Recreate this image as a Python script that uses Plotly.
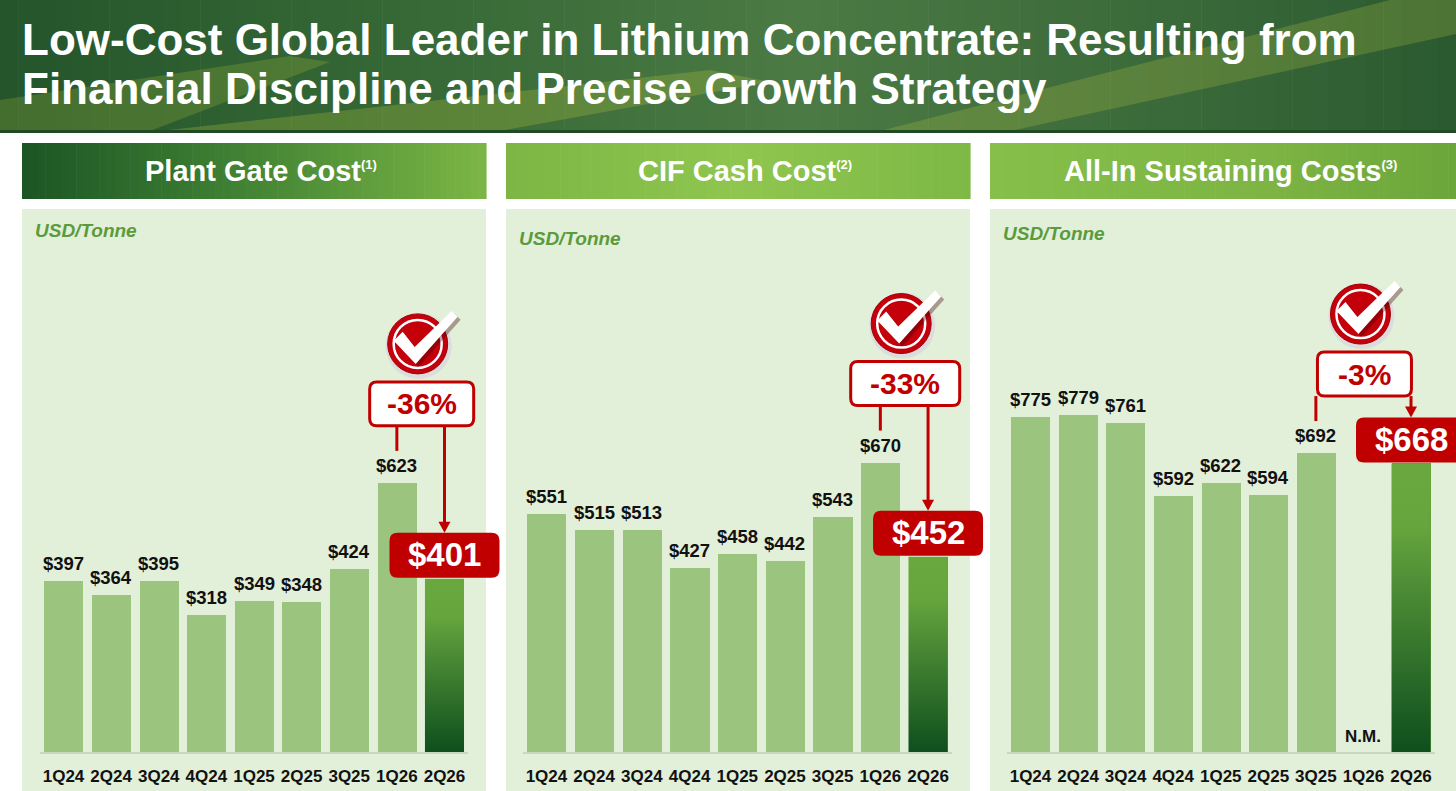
import plotly.graph_objects as go

# ---- chart data ----
quarters = ["1Q24", "2Q24", "3Q24", "4Q24", "1Q25", "2Q25", "3Q25", "1Q26", "2Q26"]
plant_gate = [397, 364, 395, 318, 349, 348, 424, 623, 401]
cif_cash = [551, 515, 513, 427, 458, 442, 543, 670, 452]
aisc = [775, 779, 761, 592, 622, 594, 692, None, 668]
panel_titles = ["Plant Gate Cost", "CIF Cash Cost", "All-In Sustaining Costs"]
footnotes = ["(1)", "(2)", "(3)"]
changes = ["-36%", "-33%", "-3%"]
compare_from = [7, 7, 6]  # bar the latest quarter is compared against
unit_label = "USD/Tonne"
title_lines = ["Low-Cost Global Leader in Lithium Concentrate: Resulting from",
               "Financial Discipline and Precise Growth Strategy"]
series = [plant_gate, cif_cash, aisc]

# ---- layout constants (pixels) ----
W, H = 1456, 791
BASE_PX, TOP_PX = 752, 209
Y_MAX = 1257
PPU = (BASE_PX - TOP_PX) / Y_MAX
BAR_W = 0.82
FONT = "Liberation Sans, Arial, sans-serif"
RED = "#c00000"

panel_px = [(22, 486), (506, 970), (990, 1456)]
axis_px = [(39.7, 468.3), (522.6, 951.9), (1006.7, 1434.8)]
unit_y = [230, 238, 233]
pct_w = [104, 109, 94]
header_stops = [
    [(0, "#1b5525"), (0.45, "#3f8033"), (1, "#7cb645")],
    [(0, "#7db644"), (0.5, "#8ec64f"), (1, "#7eb845")],
    [(0, "#86bf4a"), (0.6, "#7db443"), (1, "#6ba63b")],
]


def fx(x):
    return x / W


def fy(y):
    return 1 - y / H


def bar_cx(k, i):
    a, b = axis_px[k]
    return a + (i + 0.5) * (b - a) / len(quarters)


def bar_top(v):
    return BASE_PX - v * PPU


def hex2rgb(h):
    h = h.lstrip("#")
    return tuple(int(h[i:i + 2], 16) for i in (0, 2, 4))


def interp(stops, t):
    for (t0, c0), (t1, c1) in zip(stops[:-1], stops[1:]):
        if t0 <= t <= t1:
            f = (t - t0) / (t1 - t0)
            a, b = hex2rgb(c0), hex2rgb(c1)
            return "rgb(%d,%d,%d)" % tuple(round(a[j] + (b[j] - a[j]) * f) for j in range(3))
    return stops[-1][1]


shapes = []


def rect(x0, y0, x1, y1, color, layer="below"):
    shapes.append(dict(type="rect", xref="paper", yref="paper", x0=fx(x0), x1=fx(x1),
                       y0=fy(y1), y1=fy(y0), fillcolor=color, line_width=0, layer=layer))


def hgrad(x0, x1, y0, y1, stops, n=60):
    step = (x1 - x0) / n
    for j in range(n):
        rect(x0 + j * step, y0, x0 + (j + 1) * step + 0.6, y1, interp(stops, (j + 0.5) / n))


def poly(pts, color, line=None, lw=0, layer="above"):
    d = "M " + " L ".join("%.5f,%.5f" % (fx(x), fy(y)) for x, y in pts) + " Z"
    shapes.append(dict(type="path", xref="paper", yref="paper", path=d, fillcolor=color,
                       line=dict(color=line or "rgba(0,0,0,0)", width=lw), layer=layer))


def rrect(x0, y0, x1, y1, r, fill, line=None, lw=0):
    P = lambda x, y: "%.5f,%.5f" % (fx(x), fy(y))
    d = ("M %s L %s Q %s %s L %s Q %s %s L %s Q %s %s L %s Q %s %s Z" % (
        P(x0 + r, y0), P(x1 - r, y0), P(x1, y0), P(x1, y0 + r), P(x1, y1 - r),
        P(x1, y1), P(x1 - r, y1), P(x0 + r, y1), P(x0, y1), P(x0, y1 - r),
        P(x0, y0 + r), P(x0, y0), P(x0 + r, y0)))
    shapes.append(dict(type="path", xref="paper", yref="paper", path=d, fillcolor=fill,
                       line=dict(color=line or fill, width=lw), layer="above"))


def circle(cx, cy, r, fill, line=None, lw=0):
    shapes.append(dict(type="circle", xref="paper", yref="paper", x0=fx(cx - r), x1=fx(cx + r),
                       y0=fy(cy + r), y1=fy(cy - r), fillcolor=fill,
                       line=dict(color=line or "rgba(0,0,0,0)", width=lw), layer="above"))


def seg(x0, y0, x1, y1, color, w):
    shapes.append(dict(type="line", xref="paper", yref="paper", x0=fx(x0), y0=fy(y0),
                       x1=fx(x1), y1=fy(y1), line=dict(color=color, width=w), layer="above"))


def label(x, y, text, size, color, xanchor="center", **kw):
    annotations.append(dict(xref="paper", yref="paper", x=fx(x), y=fy(y), xanchor=xanchor,
                            yanchor="middle", text=text, showarrow=False,
                            font=dict(family=FONT, size=size, color=color, weight="bold"), **kw))


# ---- banner ----
hgrad(0, W, 0, 131, [(0, "#24552b"), (0.3, "#386a37"), (0.55, "#4b7a44"),
                     (0.8, "#3b6a3a"), (1, "#2a5a30")], n=80)
poly([(0, 100), (0, 131), (150, 131), (330, 62), (290, 56)], "rgba(180,200,60,0.22)", layer="below")
poly([(160, 131), (500, 131), (770, 82), (710, 70)], "rgba(190,205,60,0.26)", layer="below")
poly([(880, 131), (1010, 131), (1456, 34), (1456, 0), (1390, 0)], "rgba(200,210,70,0.22)", layer="below")
rect(0, 130, W, 133, "#1f4a24")

# ---- panel headers and backgrounds ----
for k, (a, b) in enumerate(panel_px):
    hgrad(a, b, 143, 199, header_stops[k])
    rect(a, 209, b, H, "#e2efd9")

fig = go.Figure()
annotations = []

for k, vals in enumerate(series):
    xa, ya = "x%d" % (k + 1), "y%d" % (k + 1)
    idx = list(range(len(quarters)))
    colors = ["#9bc57f"] * (len(quarters) - 1) + ["#5f9c3a"]
    fig.add_trace(go.Bar(x=idx, y=vals, width=BAR_W, marker_color=colors,
                         marker_line_width=0, xaxis=xa, yaxis=ya, hoverinfo="skip"))
    last = len(quarters) - 1
    v_last = vals[last]
    fig.add_trace(go.Scatter(
        x=[last - BAR_W / 2, last + BAR_W / 2, last + BAR_W / 2, last - BAR_W / 2, last - BAR_W / 2],
        y=[0, 0, v_last, v_last, 0], fill="toself", mode="lines", line_width=0,
        fillgradient=dict(type="vertical", start=0, stop=v_last,
                          colorscale=[[0, "#0e4f1e"], [0.45, "#3f7f30"], [0.78, "#66a43d"], [1, "#6aa83f"]]),
        xaxis=xa, yaxis=ya, hoverinfo="skip", showlegend=False))

    # value labels
    for i, v in enumerate(vals):
        if i == last:
            continue
        if v is None:
            annotations.append(dict(xref=xa, yref=ya, x=i, y=0, xanchor="center", yanchor="bottom",
                                    yshift=4, text="N.M.", showarrow=False,
                                    font=dict(family=FONT, size=17, color="#111", weight="bold")))
        else:
            annotations.append(dict(xref=xa, yref=ya, x=i, y=v, xanchor="center", yanchor="bottom",
                                    yshift=5, text="$%d" % v, showarrow=False,
                                    font=dict(family=FONT, size=18.5, color="#111", weight="bold")))

    # header text and unit
    a, b = panel_px[k]
    label((a + b) / 2 + 7, 171,
          "%s<sup><span style='font-size:13px'>%s</span></sup>" % (panel_titles[k], footnotes[k]),
          29, "white")
    label(a + 11, unit_y[k], "<i>%s</i>" % unit_label, 19, "#5b9b3c", xanchor="left")

    # change callout
    f = compare_from[k]
    xf, xl = bar_cx(k, f), bar_cx(k, last)
    top_f = bar_top(vals[f])
    top_l = bar_top(v_last)
    bx = (xf + xl) / 2 + 1
    b_bot = top_f - 57
    b_top = b_bot - 44
    red_top = top_l - 46
    seg(xf, b_bot, xf, top_f - 32, RED, 3)
    seg(xl, b_bot, xl, red_top - 9, RED, 3)
    poly([(xl - 6, red_top - 11), (xl + 6, red_top - 11), (xl, red_top)], RED)
    rrect(bx - pct_w[k] / 2, b_top, bx + pct_w[k] / 2, b_bot, 7, "white", RED, 3)
    label(bx, (b_top + b_bot) / 2, changes[k], 30, RED)

    # latest value box
    rrect(xl - 55, red_top, xl + 55, top_l - 1, 8, RED)
    label(xl, red_top + 22, "$%d" % v_last, 33, "white")

    # check icon
    cx, cy = bx - 4, (b_top + b_bot) / 2 - 60
    circle(cx + 1, cy + 2, 33, "#dcdcdc")
    circle(cx, cy, 30, "#c4000b", "#a00008", 1)
    circle(cx, cy, 24, "rgba(0,0,0,0)", "white", 2.5)
    chk = [(-24, -3), (-15, -12), (-3, 3), (34, -33), (40, -27), (-2, 20)]
    poly([(cx + x + 3, cy + y + 3) for x, y in chk], "rgba(60,0,0,0.35)")
    poly([(cx + x, cy + y) for x, y in chk], "white")

for j, line in enumerate(title_lines):
    label(20, 40 + 48 * j, line, 44, "white", xanchor="left")

layout = dict(width=W, height=H, margin=dict(l=0, r=0, t=0, b=0), paper_bgcolor="white",
              plot_bgcolor="rgba(0,0,0,0)", showlegend=False, bargap=0,
              shapes=shapes, annotations=annotations)
for k in range(3):
    a, b = axis_px[k]
    sx = "" if k == 0 else str(k + 1)
    layout["xaxis" + sx] = dict(domain=[fx(a), fx(b)], range=[-0.5, len(quarters) - 0.5],
                                anchor="y" + sx, tickvals=list(range(len(quarters))), ticktext=quarters,
                                tickfont=dict(family=FONT, size=17, color="#111", weight="bold"),
                                ticks="outside", ticklen=8, tickcolor="rgba(0,0,0,0)",
                                showline=True, linecolor="#cbd5c4", linewidth=1.5,
                                showgrid=False, zeroline=False, fixedrange=True)
    layout["yaxis" + sx] = dict(domain=[fy(BASE_PX), fy(TOP_PX)], range=[0, Y_MAX], anchor="x" + sx,
                                visible=False, fixedrange=True)
fig.update_layout(**layout)

fig.write_html("out.html", config={"displayModeBar": False},
               post_script="document.body.style.margin='0';document.body.style.overflow='hidden';")
